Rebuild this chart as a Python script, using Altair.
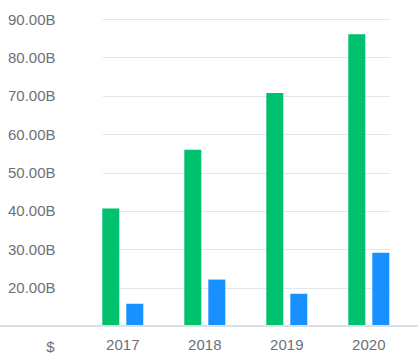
import altair as alt
import pandas as pd

years = ["2017", "2018", "2019", "2020"]
series_a = [40.6e9, 55.9e9, 70.7e9, 86.0e9]
series_b = [15.8e9, 22.1e9, 18.4e9, 29.1e9]
series_names = ["Series A", "Series B"]
colors = ["#00c16e", "#1890ff"]
y_ticks = [20e9, 30e9, 40e9, 50e9, 60e9, 70e9, 80e9, 90e9]

rows = []
for i, y in enumerate(years):
    rows.append({"year": y, "series": series_names[0], "value": series_a[i]})
    rows.append({"year": y, "series": series_names[1], "value": series_b[i]})
df = pd.DataFrame(rows)

W, H = 348, 307
gray = "#6e7079"

bars = alt.Chart(df).mark_bar().encode(
    x=alt.X("year:N", sort=years,
            scale=alt.Scale(domain=years, range=[32.3, 319.3], paddingInner=0.5, paddingOuter=0),
            axis=alt.Axis(title=None, labelAngle=0, domain=False, ticks=False,
                          labelFontSize=15, labelColor=gray, labelPadding=11,
                          labelFont="Liberation Sans")),
    xOffset=alt.XOffset("series:N", sort=series_names,
                        scale=alt.Scale(domain=series_names, paddingInner=0.2917, paddingOuter=0)),
    y=alt.Y("value:Q",
            scale=alt.Scale(domain=[10e9, 90e9], zero=False, nice=False),
            axis=alt.Axis(values=y_ticks, labelExpr="format(datum.value/1e9, '.2f') + 'B'",
                          domain=False, ticks=False, labelFontSize=15, labelColor=gray,
                          labelPadding=15, labelFont="Liberation Sans",
                          gridColor="#e3e6ee", gridWidth=1.2,
                          title="$", titleAngle=0, titleFontSize=15, titleFontWeight="normal",
                          titleColor=gray, titleFont="Liberation Sans", titleX=-20, titleY=332,
                          titleAlign="center", titleBaseline="alphabetic")),
    y2=alt.datum(10e9),
    color=alt.Color("series:N", sort=series_names,
                    scale=alt.Scale(domain=series_names, range=colors), legend=None),
)

baseline = alt.Chart(df).mark_rule(color="#dcdfe6", strokeWidth=1.2).encode(
    x=alt.value(-70), x2=alt.value(W), y=alt.value(H)
)

chart = alt.layer(bars, baseline).properties(
    width=W, height=H,
    autosize=alt.AutoSizeParams(type="none"),
    padding={"left": 70, "top": 19, "right": 0, "bottom": 29},
).configure_view(stroke=None)

chart.save("out.html", embed_options={"renderer": "svg", "actions": False})
